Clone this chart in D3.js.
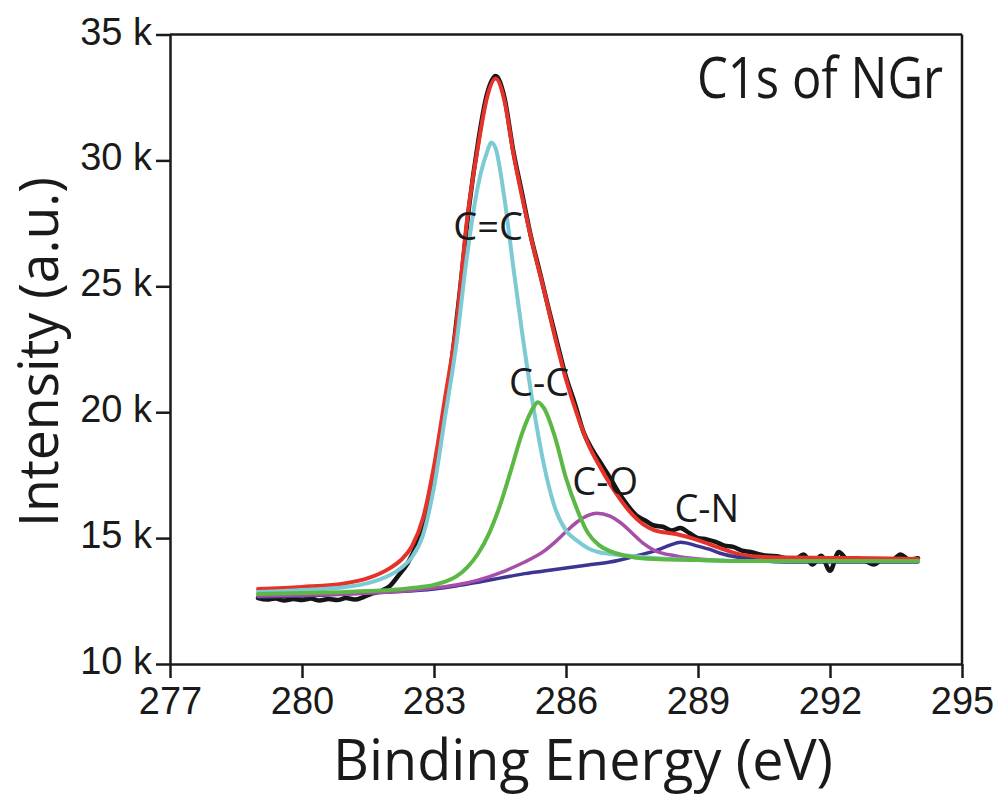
<!DOCTYPE html>
<html>
<head>
<meta charset="utf-8">
<script src="https://cdn.jsdelivr.net/npm/d3@7"></script>
<style>
    body{ margin:0; background:#fff; }
    .tick text{ font-family:"Liberation Sans", Arial, sans-serif; font-size:38px; fill:#1a1a1a; }
    .title{ font-family:"Open Sans", sans-serif; fill:#1a1a1a; }
</style>
</head>
<body>
<svg id="chart" width="1007" height="795"></svg>
<script>
// C1s spectrum of NGr: [binding energy (eV), intensity]
var xTicks = [277, 280, 283, 286, 289, 292, 295];
var yTicks = [10000, 15000, 20000, 25000, 30000, 35000];

// measured spectrum (black)
var measured = [
    [279.0,12620],[279.2,12560],[279.4,12600],[279.6,12520],[279.8,12580],[280.0,12540],
    [280.2,12600],[280.4,12520],[280.6,12580],[280.8,12540],[281.0,12620],[281.2,12560],
    [281.4,12660],[281.6,12800],[281.8,12900],[282.0,13100],[282.2,13530],[282.4,14000],
    [282.6,14720],[282.8,15900],[283.0,17500],[283.2,19600],[283.4,22000],[283.6,25000],
    [283.8,28200],[284.0,30700],[284.2,32600],[284.4,33350],[284.6,32500],[284.8,30400],
    [285.0,28700],[285.2,27000],[285.4,25600],[285.6,24150],[285.8,22750],[286.0,21400],
    [286.2,20350],[286.4,19200],[286.6,18500],[286.8,17950],[287.0,17400],[287.2,16800],
    [287.4,16300],[287.6,15900],[287.8,15700],[288.0,15500],[288.2,15450],[288.4,15300],
    [288.6,15400],[288.8,15200],[289.0,15000],[289.2,14950],[289.4,14850],[289.6,14700],
    [289.8,14650],[290.0,14500],[290.2,14450],[290.4,14350],[290.6,14300],[290.8,14280],
    [291.0,14200],[291.2,14150],[291.4,14350],[291.6,13950],[291.8,14300],[292.0,13700],
    [292.2,14450],[292.4,14150],[292.6,14200],[292.8,14100],[293.0,13950],[293.2,14150],
    [293.4,14100],[293.6,14350],[293.8,14150],[294.0,14200]
];

// fit envelope (red)
var envelope = [
    [279,12980],[280,13060],[281,13210],[281.5,13410],[282,13810],[282.25,14130],
    [282.5,14680],[282.75,15790],[283,17860],[283.25,20560],[283.5,23370],[283.75,27620],
    [284,30550],[284.2,32460],[284.4,33250],[284.6,32380],[284.8,30320],[285,28570],
    [285.25,26590],[285.5,24840],[285.75,22980],[286,21310],[286.25,19920],[286.5,18750],
    [286.75,17900],[287,17150],[287.25,16500],[287.5,15950],[287.75,15550],[288,15320],
    [288.5,15160],[289,14920],[289.5,14600],[290,14330],[290.5,14250],[291,14230],
    [292,14210],[293,14200],[294,14170]
];

// C=C component (cyan)
var peakCC2 = [
    [279,12860],[280,12940],[281,13060],[281.5,13210],[282,13530],[282.25,13810],
    [282.5,14250],[282.75,15120],[283,17020],[283.25,19800],[283.5,22600],[283.75,26200],
    [284,29000],[284.2,30300],[284.3,30710],[284.4,30480],[284.6,28500],[284.8,25800],
    [285,23200],[285.25,20300],[285.5,17900],[285.75,16200],[286,15300],[286.25,14900],
    [286.5,14600],[286.75,14440],[287,14370],[287.5,14290],[288,14210],[289,14130],
    [290,14090],[294,14090]
];

// C-C component (green)
var peakCC = [
    [279,12780],[280,12820],[281,12860],[281.5,12900],[282,12940],[282.5,13020],
    [283,13140],[283.25,13270],[283.5,13470],[283.75,13830],[284,14380],[284.25,15180],
    [284.5,16300],[284.75,17700],[285,19150],[285.25,20160],[285.36,20400],[285.5,20160],
    [285.75,19010],[286,17380],[286.25,16150],[286.5,15200],[286.75,14720],[287,14480],
    [287.5,14250],[288,14170],[289,14130],[290,14090],[294,14090]
];

// C-O component (purple)
var peakCO = [
    [279,12700],[280,12740],[281,12780],[282,12860],[283,13020],[283.5,13140],
    [284,13330],[284.5,13620],[285,14000],[285.5,14480],[285.75,14840],[286,15250],
    [286.25,15640],[286.5,15900],[286.7,15990],[287,15870],[287.25,15600],[287.5,15200],
    [287.75,14800],[288,14520],[288.5,14290],[289,14170],[290,14090],[294,14090]
];

// C-N component (navy)
var peakCN = [
    [279,12660],[280,12700],[281,12780],[282,12860],[283,12980],[283.5,13100],
    [284,13250],[284.5,13410],[285,13570],[285.5,13690],[286,13810],[286.5,13930],
    [287,14050],[287.5,14250],[288,14480],[288.25,14640],[288.5,14800],[288.6,14840],
    [288.75,14800],[289,14680],[289.25,14560],[289.5,14400],[290,14210],[290.5,14090],
    [291,14050],[294,14050]
];

// peak names, anchored at (energy, intensity) of the label baseline centre
var peakLabels = [
    {'name': "C=C", 'e': 284.23, 'i': 26830},
    {'name': "C-C", 'e': 285.39, 'i': 20640},
    {'name': "C-O", 'e': 286.89, 'i': 16700},
    {'name': "C-N", 'e': 289.20, 'i': 15630}
];

var svg = d3.select('#chart');

var x = d3.scaleLinear().domain([277, 295]).range([170, 962]);
var y = d3.scaleLinear().domain([10000, 35000]).range([664, 34.5]);

var line = d3.line()
    .x(function(d){ return x(d[0]); })
    .y(function(d){ return y(d[1]); })
    .curve(d3.curveMonotoneX);

// frame: top and right edges, no ticks
svg.append('line')
    .attr('x1', x(277)).attr('x2', x(295))
    .attr('y1', y(35000)).attr('y2', y(35000))
    .attr('stroke', '#1a1a1a').attr('stroke-width', 2.5);
svg.append('line')
    .attr('x1', x(295)).attr('x2', x(295))
    .attr('y1', y(35000)).attr('y2', y(10000))
    .attr('stroke', '#1a1a1a').attr('stroke-width', 2.5);

// curves, drawn back to front
var series = [
    {'data': measured, 'color': "#151515", 'width': 4.5},
    {'data': envelope, 'color': "#e5332a", 'width': 4},
    {'data': peakCN, 'color': "#3c3594", 'width': 3.5},
    {'data': peakCO, 'color': "#a64ea8", 'width': 3.5},
    {'data': peakCC2, 'color': "#7ccad4", 'width': 4},
    {'data': peakCC, 'color': "#5cb845", 'width': 4}
];

svg.append('g').selectAll('path')
    .data(series)
    .enter().append('path')
    .attr('d', function(d){ return line(d.data); })
    .attr('fill', 'none')
    .attr('stroke', function(d){ return d.color; })
    .attr('stroke-width', function(d){ return d.width; })
    .attr('stroke-linejoin', 'round')
    .attr('stroke-linecap', 'round');

// axes
var yAxis = svg.append('g')
    .attr('transform', "translate(" + x(277) + ",0)")
    .call(d3.axisLeft(y).tickValues(yTicks).tickSize(14).tickSizeOuter(0).tickPadding(4)
        .tickFormat(function(d){ return (d / 1000) + " k"; }));

var xAxis = svg.append('g')
    .attr('transform', "translate(0," + y(10000) + ")")
    .call(d3.axisBottom(x).tickValues(xTicks).tickSize(14).tickSizeOuter(0).tickPadding(9)
        .tickFormat(d3.format('d')));

svg.selectAll('.domain, .tick line')
    .attr('stroke', '#1a1a1a')
    .attr('stroke-width', 2.5);
yAxis.selectAll('.tick text').attr('dy', '0.25em');

// peak labels
svg.append('g').selectAll('text')
    .data(peakLabels)
    .enter().append('text')
    .attr('class', 'title')
    .attr('x', function(d){ return x(d.e); })
    .attr('y', function(d){ return y(d.i); })
    .attr('text-anchor', 'middle')
    .style('font-size', '38px')
    .text(function(d){ return d.name; });

// titles
svg.append('text')
    .attr('class', 'title')
    .attr('x', 697).attr('y', 98)
    .attr('textLength', 246).attr('lengthAdjust', 'spacingAndGlyphs')
    .style('font-size', '56px')
    .text("C1s of NGr");

svg.append('text')
    .attr('class', 'title')
    .attr('x', 583).attr('y', 780)
    .attr('text-anchor', 'middle')
    .attr('textLength', 500).attr('lengthAdjust', 'spacingAndGlyphs')
    .style('font-size', '56px')
    .text("Binding Energy (eV)");

svg.append('text')
    .attr('class', 'title')
    .attr('transform', "translate(58,352) rotate(-90)")
    .attr('text-anchor', 'middle')
    .attr('textLength', 350).attr('lengthAdjust', 'spacingAndGlyphs')
    .style('font-size', '54px')
    .text("Intensity (a.u.)");
</script>
</body>
</html>
